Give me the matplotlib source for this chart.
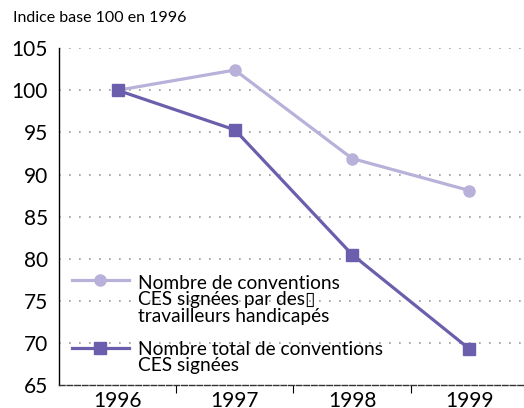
import numpy as np
import matplotlib
matplotlib.use("Agg")
import matplotlib.pyplot as plt
from matplotlib.legend_handler import HandlerLine2D

# data
years = ["1996", "1997", "1998", "1999"]
handicapes = [100, 102.4, 91.9, 88.1]
total = [100, 95.3, 80.5, 69.3]
yticks = [65, 70, 75, 80, 85, 90, 95, 100, 105]

light = "#b9b1d9"
dark = "#6b5fad"

plt.rcParams['font.family'] = ['Lato', 'DejaVu Sans']


# keep the legend key level with the first line of a multi-line label
class TopHandler(HandlerLine2D):
    def __init__(self, shift, **kw):
        super().__init__(**kw)
        self.shift = shift

    def create_artists(self, legend, orig_handle, xdescent, ydescent,
                       width, height, fontsize, trans):
        arts = super().create_artists(legend, orig_handle, xdescent, ydescent,
                                      width, height, fontsize, trans)
        for a in arts:
            a.set_ydata(np.asarray(a.get_ydata()) + self.shift * fontsize)
        return arts


fig = plt.figure(figsize=(5.24, 4.08), dpi=100)
ax = fig.add_axes([0.1126, 0.056, 0.895, 0.826])

x = np.arange(len(years))
l1, = ax.plot(x, handicapes, color=light, lw=2.3, marker="o", ms=8,
              label="Nombre de conventions\nCES signées par des\u25af\ntravailleurs handicapés")
l2, = ax.plot(x, total, color=dark, lw=2.3, marker="s", ms=8,
              label="Nombre total de conventions\nCES signées")

ax.set_xlim(-0.5, 3.5)
ax.set_ylim(65, 105)
ax.set_yticks(yticks)
ax.set_yticklabels([str(v) for v in yticks], fontsize=15)
ax.set_xticks(x)
ax.set_xticklabels(years, fontsize=15)
ax.set_xticks(np.arange(0.5, 4, 1), minor=True)
ax.tick_params(axis="x", which="major", length=0, pad=4)
ax.tick_params(axis="x", which="minor", length=6, width=0.8, direction="out")
ax.tick_params(axis="y", length=0, pad=8)

for v in yticks[1:]:
    ax.axhline(v, color="#999999", lw=1.2, ls=(0, (1, 5)), zorder=0)

for s in ["top", "right"]:
    ax.spines[s].set_visible(False)
ax.spines["left"].set_linewidth(1.0)
ax.spines["bottom"].set_linestyle((0, (4, 1.5)))
ax.spines["bottom"].set_color("#333333")
ax.spines["bottom"].set_linewidth(1.0)

leg = ax.legend(handles=[l1, l2], loc="upper left", bbox_to_anchor=(-0.01, 0.378),
                frameon=False, fontsize=13.8, handlelength=3.0, handletextpad=0.45,
                labelspacing=0.85,
                handler_map={l1: TopHandler(1.05), l2: TopHandler(0.52)})
for t in leg.get_texts():
    t.set_linespacing(0.95)

fig.text(0.025, 0.945, "Indice base 100 en 1996", fontsize=11.5)

fig.savefig("out.png", dpi=100)
